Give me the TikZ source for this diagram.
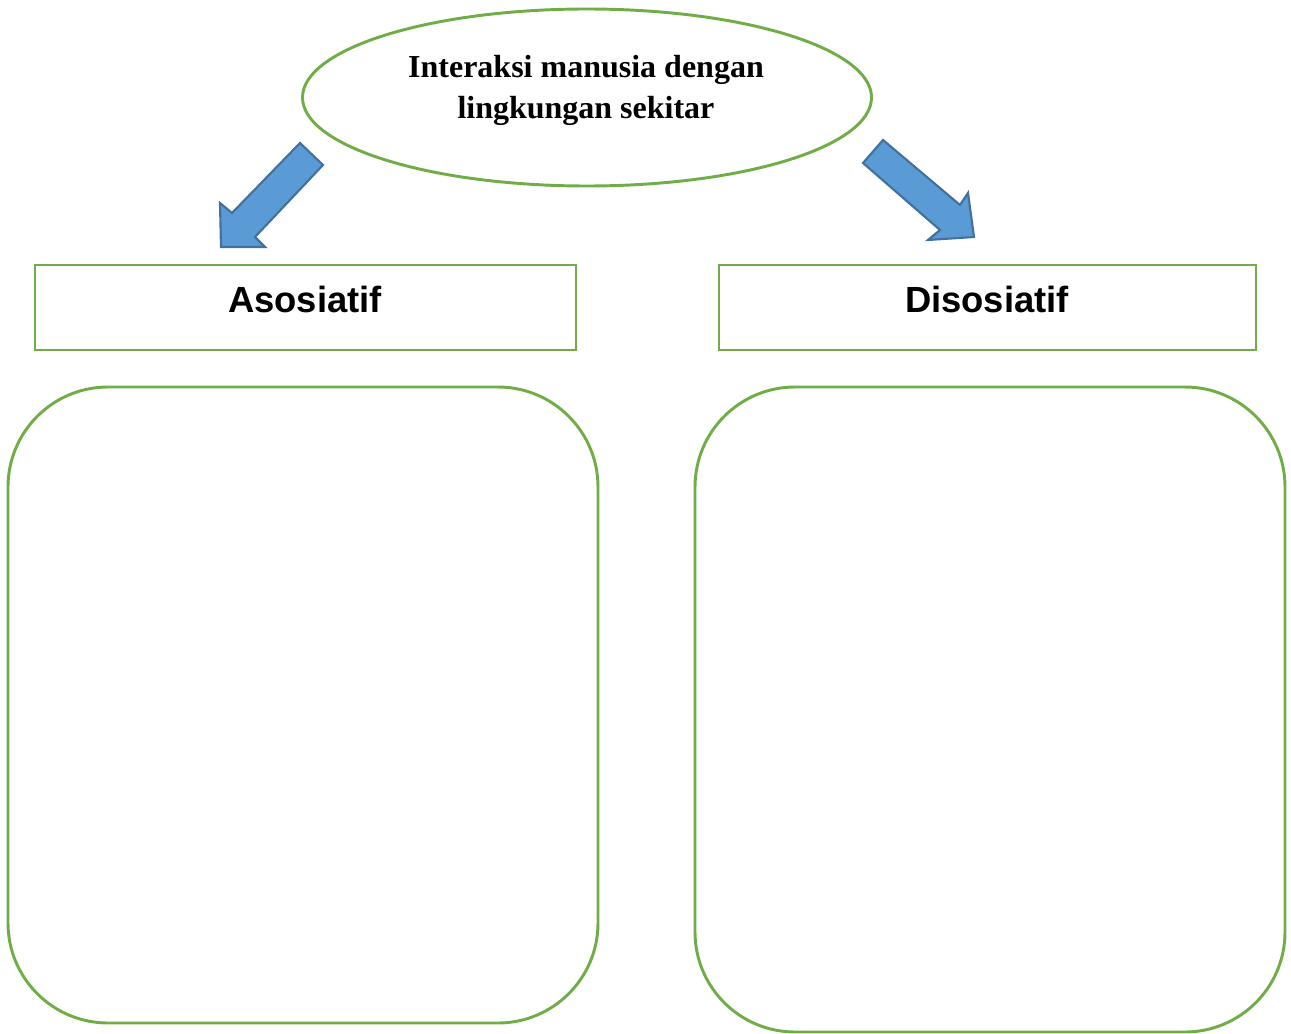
\documentclass[tikz,border=0pt]{standalone}
\usepackage{fontspec}
\setmainfont{Liberation Serif}
\newfontfamily\arialfont{Liberation Sans}
\usetikzlibrary{shapes.geometric}
\definecolor{frame}{HTML}{70AD47}
\definecolor{arrowfill}{HTML}{5B9BD5}
\definecolor{arrowline}{HTML}{41719C}
\tikzset{
  greenline/.style={draw=frame, line width=2.2pt},
  headbox/.style={greenline, rectangle, inner sep=0pt},
  bigbox/.style={greenline, rectangle, rounded corners=75pt, inner sep=0pt},
  blockarrow/.style={fill=arrowfill, draw=arrowline, line width=1.6pt, line join=miter},
  headtext/.style={font=\arialfont\bfseries\fontsize{27.3}{32}\selectfont, inner sep=0pt, anchor=base},
}
\begin{document}
\begin{tikzpicture}[x=0.75pt,y=-0.75pt]
\useasboundingbox (0,0) rectangle (1291,1034);
% title ellipse
\node[greenline, ellipse, minimum width=426.75pt, minimum height=132.75pt, inner sep=0pt] (root) at (587,97.5) {};
\node[font=\bfseries\fontsize{24}{30.75}\selectfont, align=center, inner sep=0pt] (roottext) at (586,90) {Interaksi manusia dengan\\lingkungan sekitar};
% heading boxes
\node[headbox, minimum width=405.75pt, minimum height=63.75pt] (asos) at (305.5,307.5) {};
\node[headbox, minimum width=402.75pt, minimum height=63.75pt] (disos) at (987.5,307.5) {};
\node[headtext] (asoslbl) at (305,312) {Asosiatif};
\node[headtext] (disoslbl) at (987,312) {Disosiatif};
% big boxes
\node[bigbox, minimum width=442.5pt, minimum height=477pt] (leftbig) at (303,705) {};
\node[bigbox, minimum width=442.5pt, minimum height=483.75pt] (rightbig) at (990,709.5) {};
% block arrows
\draw[blockarrow] (300,143) -- (323,165) -- (255,237) -- (265,247) -- (221,247) -- (220,203) -- (232,213) -- cycle;
\draw[blockarrow] (883,140) -- (863,163) -- (940,230) -- (928,240) -- (974,237) -- (968,193) -- (960,205) -- cycle;
\end{tikzpicture}
\end{document}
